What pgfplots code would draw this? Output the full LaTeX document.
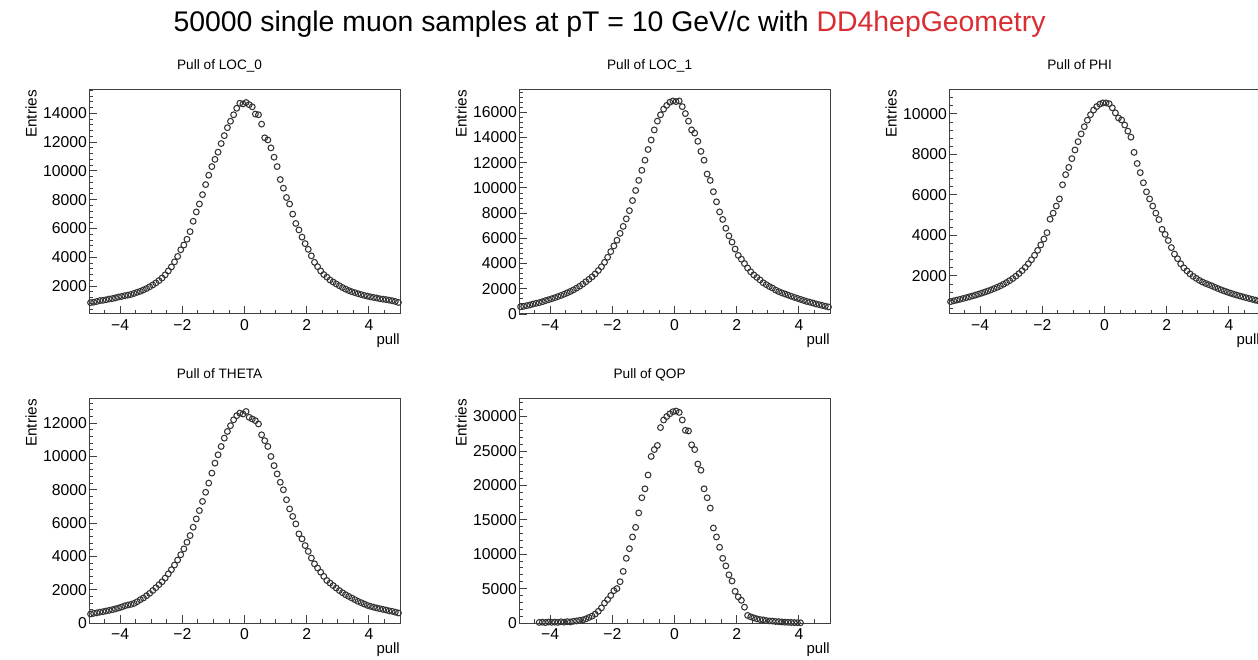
\documentclass[border=0pt]{standalone}
\usepackage{fontspec}
\setmainfont{Liberation Sans}
\usepackage{pgfplots}
\pgfplotsset{compat=1.18}
\usepackage{pgfplotstable}
\definecolor{ddred}{RGB}{217,45,50}
\newcommand\tickfont{\fontsize{15.8}{17}\selectfont}

\pgfplotstableread{
x y
-4.95 850
-4.85 880
-4.75 930
-4.65 990
-4.55 1010
-4.45 1050
-4.35 1100
-4.25 1130
-4.15 1180
-4.05 1240
-3.95 1280
-3.85 1330
-3.75 1370
-3.65 1420
-3.55 1490
-3.45 1570
-3.35 1640
-3.25 1730
-3.15 1830
-3.05 1950
-2.95 2080
-2.85 2220
-2.75 2380
-2.65 2560
-2.55 2780
-2.45 3050
-2.35 3330
-2.25 3680
-2.15 4060
-2.05 4520
-1.95 4850
-1.85 5250
-1.75 5780
-1.65 6500
-1.55 7150
-1.45 7700
-1.35 8350
-1.25 9050
-1.15 9700
-1.05 10300
-0.95 10800
-0.85 11300
-0.75 11900
-0.65 12450
-0.55 13000
-0.45 13450
-0.35 13900
-0.25 14350
-0.15 14700
-0.05 14650
0.05 14750
0.15 14600
0.25 14450
0.35 13950
0.45 13900
0.55 13250
0.65 12300
0.75 12150
0.85 11600
0.95 10950
1.05 10300
1.15 9400
1.25 8800
1.35 8150
1.45 7700
1.55 7000
1.65 6350
1.75 5900
1.85 5400
1.95 4950
2.05 4550
2.15 4100
2.25 3650
2.35 3350
2.45 3050
2.55 2800
2.65 2620
2.75 2420
2.85 2280
2.95 2150
3.05 2020
3.15 1900
3.25 1790
3.35 1690
3.45 1610
3.55 1540
3.65 1470
3.75 1410
3.85 1350
3.95 1300
4.05 1250
4.15 1210
4.25 1170
4.35 1120
4.45 1090
4.55 1060
4.65 1020
4.75 980
4.85 930
4.95 860
}\locA

\pgfplotstableread{
x y
-4.95 580
-4.85 610
-4.75 660
-4.65 720
-4.55 790
-4.45 850
-4.35 900
-4.25 970
-4.15 1060
-4.05 1130
-3.95 1210
-3.85 1290
-3.75 1380
-3.65 1470
-3.55 1570
-3.45 1680
-3.35 1790
-3.25 1910
-3.15 2050
-3.05 2200
-2.95 2370
-2.85 2560
-2.75 2750
-2.65 2950
-2.55 3180
-2.45 3450
-2.35 3750
-2.25 4100
-2.15 4500
-2.05 4950
-1.95 5400
-1.85 5850
-1.75 6400
-1.65 6950
-1.55 7550
-1.45 8200
-1.35 9000
-1.25 9800
-1.15 10600
-1.05 11400
-0.95 12200
-0.85 13050
-0.75 13800
-0.65 14600
-0.55 15300
-0.45 15800
-0.35 16250
-0.25 16550
-0.15 16800
-0.05 16900
0.05 16850
0.15 16900
0.25 16450
0.35 15900
0.45 15300
0.55 14600
0.65 14350
0.75 13700
0.85 12900
0.95 12200
1.05 11100
1.15 10600
1.25 9700
1.35 8900
1.45 8100
1.55 7500
1.65 6800
1.75 6200
1.85 5700
1.95 5150
2.05 4650
2.15 4350
2.25 4000
2.35 3650
2.45 3350
2.55 3100
2.65 2900
2.75 2700
2.85 2480
2.95 2330
3.05 2180
3.15 2060
3.25 1900
3.35 1780
3.45 1680
3.55 1590
3.65 1500
3.75 1410
3.85 1320
3.95 1240
4.05 1160
4.15 1080
4.25 1000
4.35 940
4.45 870
4.55 800
4.65 740
4.75 680
4.85 620
4.95 560
}\locB

\pgfplotstableread{
x y
-4.95 732
-4.85 768
-4.75 806
-4.65 844
-4.55 884
-4.45 924
-4.35 966
-4.25 1009
-4.15 1054
-4.05 1100
-3.95 1150
-3.85 1201
-3.75 1256
-3.65 1313
-3.55 1374
-3.45 1440
-3.35 1511
-3.25 1589
-3.15 1674
-3.05 1768
-2.95 1872
-2.85 1988
-2.75 2116
-2.65 2260
-2.55 2420
-2.45 2600
-2.35 2799
-2.25 3019
-2.15 3262
-2.05 3529
-1.95 3820
-1.85 4136
-1.75 4800
-1.65 5100
-1.55 5450
-1.45 5800
-1.35 6500
-1.25 7000
-1.15 7356
-1.05 7792
-0.95 8218
-0.85 8628
-0.75 9013
-0.65 9368
-0.55 9687
-0.45 9962
-0.35 10190
-0.25 10364
-0.15 10482
-0.05 10543
0.05 10543
0.15 10500
0.25 10300
0.35 10050
0.45 9800
0.55 9700
0.65 9450
0.75 9150
0.85 8850
0.95 8100
1.05 7550
1.15 7100
1.25 6600
1.35 6150
1.45 5800
1.55 5450
1.65 5100
1.75 4780
1.85 4300
1.95 4050
2.05 3750
2.15 3400
2.25 3080
2.35 2850
2.45 2600
2.55 2400
2.65 2250
2.75 2100
2.85 1980
2.95 1880
3.05 1780
3.15 1700
3.25 1630
3.35 1570
3.45 1511
3.55 1440
3.65 1374
3.75 1313
3.85 1256
3.95 1201
4.05 1150
4.15 1100
4.25 1054
4.35 1009
4.45 966
4.55 924
4.65 884
4.75 844
4.85 806
4.95 768
}\locC

\pgfplotstableread{
x y
-4.95 540
-4.85 580
-4.75 610
-4.65 650
-4.55 680
-4.45 720
-4.35 760
-4.25 800
-4.15 850
-4.05 900
-3.95 960
-3.85 1030
-3.75 1080
-3.65 1120
-3.55 1180
-3.45 1280
-3.35 1400
-3.25 1500
-3.15 1640
-3.05 1780
-2.95 1950
-2.85 2120
-2.75 2300
-2.65 2480
-2.55 2700
-2.45 2950
-2.35 3200
-2.25 3480
-2.15 3780
-2.05 4100
-1.95 4450
-1.85 4850
-1.75 5250
-1.65 5750
-1.55 6250
-1.45 6750
-1.35 7300
-1.25 7850
-1.15 8400
-1.05 9000
-0.95 9600
-0.85 10100
-0.75 10600
-0.65 11100
-0.55 11500
-0.45 11850
-0.35 12200
-0.25 12450
-0.15 12600
-0.05 12550
0.05 12700
0.15 12350
0.25 12250
0.35 12150
0.45 11950
0.55 11300
0.65 10950
0.75 10600
0.85 10000
0.95 9450
1.05 8950
1.15 8450
1.25 8000
1.35 7400
1.45 6850
1.55 6400
1.65 5950
1.75 5350
1.85 5050
1.95 4650
2.05 4300
2.15 3900
2.25 3550
2.35 3300
2.45 3050
2.55 2800
2.65 2550
2.75 2400
2.85 2250
2.95 2100
3.05 1950
3.15 1820
3.25 1700
3.35 1600
3.45 1500
3.55 1400
3.65 1300
3.75 1220
3.85 1140
3.95 1060
4.05 1000
4.15 950
4.25 900
4.35 860
4.45 820
4.55 780
4.65 730
4.75 700
4.85 650
4.95 600
}\locD

\pgfplotstableread{
x y
-4.35 80
-4.25 120
-4.15 60
-4.05 150
-3.95 100
-3.85 130
-3.75 90
-3.65 180
-3.55 120
-3.45 200
-3.35 150
-3.25 250
-3.15 300
-3.05 380
-2.95 450
-2.85 600
-2.75 800
-2.65 1000
-2.55 1300
-2.45 1700
-2.35 2200
-2.25 2900
-2.15 3400
-2.05 4000
-1.95 4700
-1.85 5000
-1.75 6000
-1.65 7500
-1.55 9400
-1.45 10800
-1.35 12500
-1.25 13900
-1.15 16000
-1.05 18200
-0.95 19500
-0.85 21500
-0.75 24200
-0.65 25200
-0.55 25800
-0.45 28400
-0.35 29500
-0.25 30000
-0.15 30400
-0.05 30700
0.05 30800
0.15 30600
0.25 29500
0.35 28000
0.45 27900
0.55 25900
0.65 25200
0.75 23100
0.85 22200
0.95 19500
1.05 18200
1.15 16700
1.25 13800
1.35 12500
1.45 11000
1.55 9400
1.65 8300
1.75 7000
1.85 6100
1.95 4600
2.05 3800
2.15 3300
2.25 2300
2.35 1100
2.45 900
2.55 750
2.65 600
2.75 500
2.85 450
2.95 350
3.05 300
3.15 280
3.25 220
3.35 200
3.45 150
3.55 120
3.65 100
3.75 80
3.85 60
3.95 40
4.05 30
}\locE

\pgfplotsset{
  rootaxis/.style={
    scale only axis, width=311bp, height=224bp,
    anchor=south west,
    xmin=-5, xmax=5,
    xtick={-4,-2,0,2,4}, xticklabels={−4,−2,0,2,4},
    minor xtick={-4.5,-4,...,4.5},
    tick align=inside, tick pos=left,
    major tick length=8bp, minor tick length=4bp,
    axis line style={line width=1bp, black!75},
    every tick/.style={black!75, line width=0.9bp},
    ticklabel style={font=\tickfont},
    xticklabel style={inner sep=0pt, yshift=-5.5bp},
    yticklabel style={inner sep=0pt, xshift=-2bp},
    /pgf/number format/assume math mode=true,
    /pgf/number format/1000 sep={},
    scaled y ticks=false,
    clip=false,
    xlabel={pull},
    xlabel style={at={(axis description cs:1,0)}, anchor=north east, inner sep=0pt, yshift=-19bp, font=\fontsize{15}{17}\selectfont},
    ylabel={Entries},
    ylabel style={at={(axis description cs:-0.186,1)}, anchor=east, inner sep=0pt, font=\fontsize{15.4}{17}\selectfont},
    title style={at={(axis description cs:0.42,1)}, anchor=base, inner sep=0pt, yshift=14.5bp, font=\fontsize{13.7}{15}\selectfont},
  },
  pts/.style={only marks, mark=o, mark size=2.9bp, black!80, mark options={line width=1.05bp}},
}

\begin{document}
\begin{tikzpicture}
\useasboundingbox (0,0) rectangle (1258bp,660bp);
\fill[white] (0,0) rectangle (1258bp,660bp);
\clip (0,0) rectangle (1258bp,660bp);

\node[font=\fontsize{28.5}{30}\selectfont, anchor=base, inner sep=0pt] at (609.5bp,628.5bp)
  {50000 single muon samples at pT = 10 GeV/c with \textcolor{ddred}{DD4hepGeometry}};

\begin{axis}[rootaxis, at={(89bp,346bp)}, title={Pull of LOC\_0},
  ymin=60, ymax=15620, ytick={2000,4000,...,14000}, minor ytick={0,400,...,15600}]
\addplot[pts] table[x=x,y=y] {\locA};
\end{axis}

\begin{axis}[rootaxis, at={(519bp,346bp)}, title={Pull of LOC\_1},
  ymin=0, ymax=17770, ytick={0,2000,...,16000}, minor ytick={0,400,...,17600}]
\addplot[pts] table[x=x,y=y] {\locB};
\end{axis}

\begin{axis}[rootaxis, at={(949bp,346bp)}, title={Pull of PHI},
  ymin=120, ymax=11180, ytick={2000,4000,...,10000}, minor ytick={0,400,...,11200}]
\addplot[pts] table[x=x,y=y] {\locC};
\end{axis}

\begin{axis}[rootaxis, at={(89bp,37bp)}, title={Pull of THETA},
  ymin=0, ymax=13450, ytick={0,2000,...,12000}, minor ytick={0,400,...,13200}]
\addplot[pts] table[x=x,y=y] {\locD};
\end{axis}

\begin{axis}[rootaxis, at={(519bp,37bp)}, title={Pull of QOP},
  ymin=0, ymax=32550, ytick={0,5000,...,30000}, minor ytick={0,1000,...,32000}]
\addplot[pts] table[x=x,y=y] {\locE};
\end{axis}
\end{tikzpicture}
\end{document}
